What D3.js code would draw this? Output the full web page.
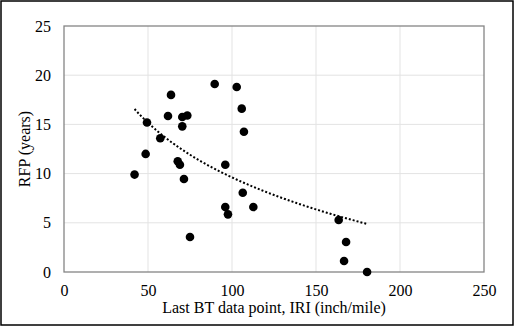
<!DOCTYPE html>
<html>
<head>
<meta charset="utf-8">
<script src="https://cdn.jsdelivr.net/npm/d3@7"></script>
<style>
  body { margin: 0; background: #fff; }
  text { font-family: "Liberation Serif", "Times New Roman", serif; fill: #000; }
</style>
</head>
<body>
<svg id="chart" width="515" height="328"></svg>
<script>
// Data
const iri = [42, 48.6, 49.4, 57.3, 61.9, 63.7, 67.7, 69, 70.4, 70.4, 73.4, 71.4, 75,
             89.7, 96, 102.8, 105.8, 107.1, 106.4, 96, 97.6, 112.7, 163.5, 167.9, 166.7, 180.4];
const rfp = [9.9, 12.0, 15.2, 13.6, 15.85, 18.0, 11.25, 10.9, 14.8, 15.75, 15.9, 9.45, 3.56,
             19.1, 10.9, 18.8, 16.6, 14.26, 8.06, 6.6, 5.86, 6.6, 5.28, 3.05, 1.12, 0];
const xTicks = [0, 50, 100, 150, 200, 250];
const yTicks = [0, 5, 10, 15, 20, 25];
// logarithmic trendline: y = a + b*ln(x), over the data range
const trendA = 46.5, trendB = -8.01;

let svg = d3.select("#chart");
const plot = { left: 64, right: 484, top: 26, bottom: 272 };

let x = d3.scaleLinear().domain([0, 250]).range([plot.left, plot.right]);
let y = d3.scaleLinear().domain([0, 25]).range([plot.bottom, plot.top]);

// outer frame
svg.append("rect")
    .attr("x", 1).attr("y", 1).attr("width", 512).attr("height", 324)
    .attr("fill", "#fff").attr("stroke", "#000").attr("stroke-width", 1.5);

// gridlines
svg.append("g").selectAll("line.vgrid").data(xTicks.slice(1, -1))
    .join("line")
    .attr("x1", d => x(d)).attr("x2", d => x(d))
    .attr("y1", plot.top).attr("y2", plot.bottom)
    .attr("stroke", "#e3e3e3").attr("stroke-width", 1);
svg.append("g").selectAll("line.hgrid").data(yTicks.slice(1, -1))
    .join("line")
    .attr("x1", plot.left).attr("x2", plot.right)
    .attr("y1", d => y(d)).attr("y2", d => y(d))
    .attr("stroke", "#e3e3e3").attr("stroke-width", 1);

// plot box
svg.append("rect")
    .attr("x", plot.left).attr("y", plot.top)
    .attr("width", plot.right - plot.left).attr("height", plot.bottom - plot.top)
    .attr("fill", "none").attr("stroke", "#858585").attr("stroke-width", 1.3);

// axes
let xAxis = svg.append("g")
    .attr("transform", "translate(0," + plot.bottom + ")")
    .call(d3.axisBottom(x).tickValues(xTicks).tickSize(0).tickPadding(13));
let yAxis = svg.append("g")
    .attr("transform", "translate(" + plot.left + ",0)")
    .call(d3.axisLeft(y).tickValues(yTicks).tickSize(0).tickPadding(13));
[xAxis, yAxis].forEach(a => {
    a.select(".domain").remove();
    a.selectAll("text")
        .style("font-family", "'Liberation Serif', serif")
        .style("font-size", "16px")
        .attr("fill", "#000");
});

// trendline
let trendX = d3.range(42, 181.01, 1);
svg.append("path")
    .datum(trendX)
    .attr("fill", "none")
    .attr("stroke", "#000")
    .attr("stroke-width", 2)
    .attr("stroke-dasharray", "2,2")
    .attr("d", d3.line().x(d => x(d)).y(d => y(trendA + trendB * Math.log(d))));

// points
svg.append("g").selectAll("circle").data(iri)
    .join("circle")
    .attr("cx", d => x(d))
    .attr("cy", (d, i) => y(rfp[i]))
    .attr("r", 4.3)
    .attr("fill", "#000");

// axis titles
svg.append("text")
    .attr("x", (plot.left + plot.right) / 2)
    .attr("y", 313)
    .attr("text-anchor", "middle")
    .style("font-size", "16px")
    .text("Last BT data point, IRI (inch/mile)");
svg.append("text")
    .attr("transform", "translate(30," + (plot.top + plot.bottom) / 2 + ") rotate(-90)")
    .attr("text-anchor", "middle")
    .style("font-size", "16px")
    .text("RFP (years)");
</script>
</body>
</html>
